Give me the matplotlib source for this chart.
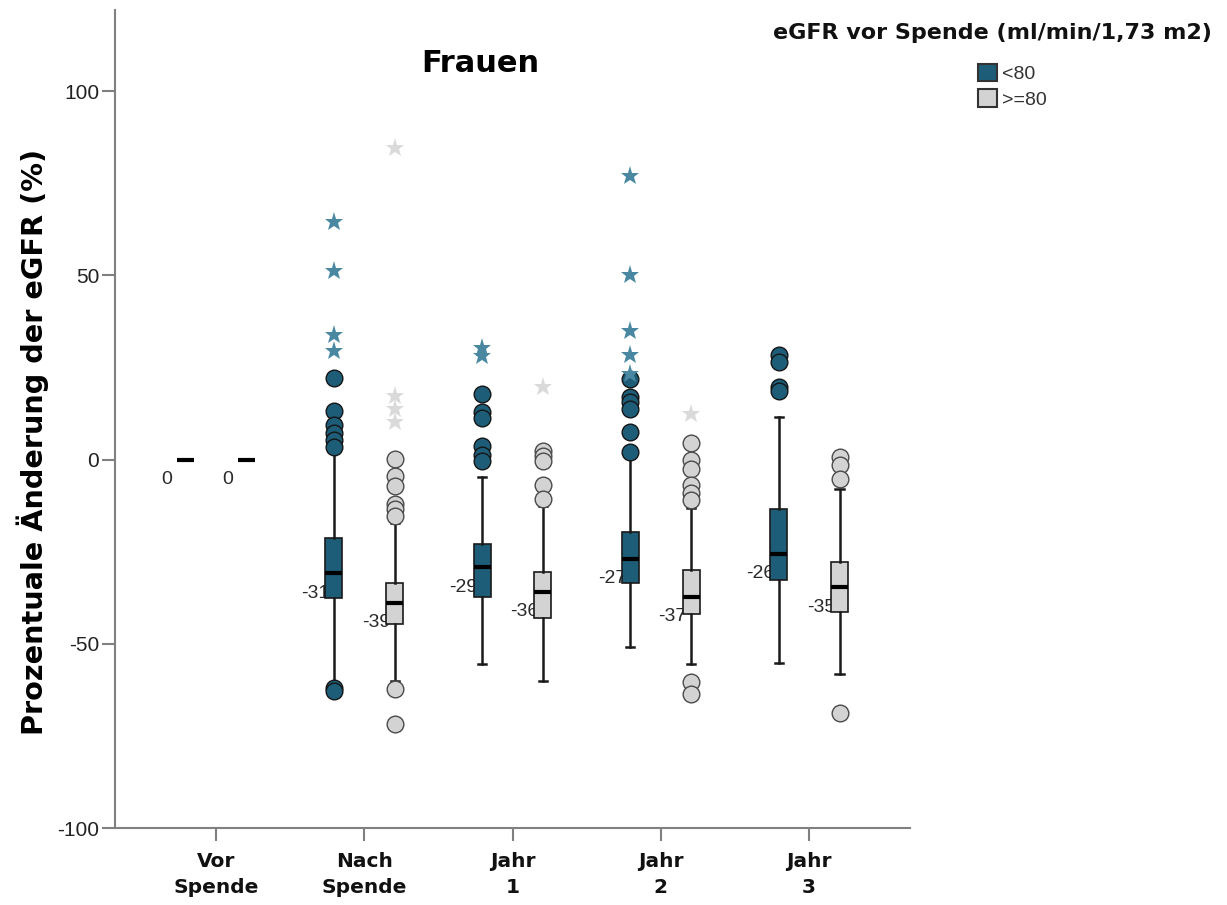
import matplotlib
matplotlib.use('Agg')
import matplotlib.pyplot as plt
import matplotlib as mpl
import numpy as np
from matplotlib.patches import Patch

mpl.rcParams['axes.unicode_minus'] = False  # Bindestrich statt Minuszeichen

# Kategorien (x-Achse)
groups = ['Vor\nSpende', 'Nach\nSpende', 'Jahr\n1', 'Jahr\n2', 'Jahr\n3']

# eGFR < 80: Boxplot-Kennwerte
lt80_med = [0, -30.8, -29.2, -26.9, -25.6]
lt80_q1 = [0, -37.5, -37.2, -33.4, -32.7]
lt80_q3 = [0, -21.4, -23.0, -19.8, -13.4]
lt80_lo = [0, -60.5, -55.4, -50.8, -55.2]
lt80_hi = [0, 2.2, -4.8, 0.3, 11.6]
lt80_out = [[], [22.1, 13.2, 9.4, 7.3, 5.2, 3.4, -61.9, -62.9],
            [17.9, 12.9, 11.4, 3.6, 1.1, -0.3],
            [21.9, 17.1, 15.6, 13.7, 7.5, 2.0],
            [28.3, 26.6, 19.8, 18.6]]
lt80_ext = [[], [64.4, 51.1, 33.7, 29.5], [30.4, 28.0],
            [77.0, 50.1, 35.0, 28.5, 23.3], []]

# eGFR >= 80: Boxplot-Kennwerte
ge80_med = [0, -38.9, -35.9, -37.2, -34.7]
ge80_q1 = [0, -44.6, -43.1, -41.9, -41.5]
ge80_q3 = [0, -33.4, -30.6, -30.1, -27.9]
ge80_lo = [0, -60.0, -60.1, -55.6, -58.1]
ge80_hi = [0, -17.2, -12.7, -13.1, -8.0]
ge80_out = [[], [0.2, -4.4, -7.1, -12.0, -13.5, -15.4, -62.3, -71.9],
            [2.3, 0.9, -0.3, -7.0, -10.7],
            [4.4, -0.1, -2.5, -6.8, -9.2, -11.1, -60.4, -63.5],
            [0.7, -1.4, -5.4, -68.7]]
ge80_ext = [[], [84.5, 17.2, 13.6, 10.2], [19.7], [12.3], []]

teal = '#1d5d78'
teal_star = '#4a88a2'
gray = '#d3d3d3'
gray_star = '#dadada'
spine_c = '#808080'


def make_stats(med, q1, q3, lo, hi):
    return [dict(med=m, q1=a, q3=b, whislo=l, whishi=h, fliers=[])
            for m, a, b, l, h in zip(med, q1, q3, lo, hi)]


fig = plt.figure(figsize=(12.27, 9.05), dpi=100)
ax = fig.add_axes([115 / 1227, 1 - 828 / 905, (910 - 115) / 1227, (828 - 10) / 905])

pos = np.arange(len(groups))
off = 0.205

series = [
    (pos - off, make_stats(lt80_med, lt80_q1, lt80_q3, lt80_lo, lt80_hi), lt80_out, lt80_ext, teal, teal_star, '#151515'),
    (pos + off, make_stats(ge80_med, ge80_q1, ge80_q3, ge80_lo, ge80_hi), ge80_out, ge80_ext, gray, gray_star, '#4a4a4a'),
]

for xs, stats, outs, exts, fc, sc, ec in series:
    ax.bxp(stats, positions=xs, widths=0.115, capwidths=0.055, patch_artist=True,
           showfliers=False, manage_ticks=False,
           boxprops=dict(facecolor=fc, edgecolor='#1a1a1a', linewidth=1.2),
           medianprops=dict(color='black', linewidth=3),
           whiskerprops=dict(color='#1a1a1a', linewidth=1.8),
           capprops=dict(color='#1a1a1a', linewidth=1.8))
    for i in range(len(groups)):
        if outs[i]:
            ax.plot([xs[i]] * len(outs[i]), outs[i], 'o', ms=12, mfc=fc, mec=ec,
                    mew=1.0, zorder=4)
        if exts[i]:
            ax.plot([xs[i]] * len(exts[i]), exts[i], '*', ms=14, color=sc,
                    mew=0, zorder=4)
        m = stats[i]['med']
        ax.annotate('{:.0f}'.format(round(m)), xy=(xs[i], m), xytext=(-18.5, -20),
                    textcoords='offset pixels', ha='center', va='center',
                    fontsize=14, family='Liberation Sans', color='#2a2a2a', zorder=1)

ax.set_xlim(-0.68, 4.68)
ax.set_ylim(-100, 122)
ax.set_yticks([-100, -50, 0, 50, 100])
ax.set_yticklabels(['-100', '-50', '0', '50', '100'], family='Liberation Sans',
                   fontsize=15, color='#222222')
ax.set_xticks(pos)
ax.set_xticklabels(groups, family='DejaVu Sans', fontweight='bold', fontsize=14.5,
                   color='#111111', linespacing=1.45)
ax.tick_params(axis='y', length=9.4, width=1.5, color=spine_c, pad=2)
ax.tick_params(axis='x', length=9.4, width=1.5, color=spine_c, pad=8)
for s in ['top', 'right']:
    ax.spines[s].set_visible(False)
for s in ['left', 'bottom']:
    ax.spines[s].set_color(spine_c)
    ax.spines[s].set_linewidth(1.5)

fig.text(33 / 1227, 1 - 442 / 905, 'Prozentuale Änderung der eGFR (%)', rotation=90,
         ha='center', va='center', fontsize=20.7, fontweight='bold', family='DejaVu Sans')
fig.text(480 / 1227, 1 - 64 / 905, 'Frauen', ha='center', va='center', fontsize=22,
         fontweight='bold', family='DejaVu Sans')
fig.text(992 / 1227, 1 - 33 / 905, 'eGFR vor Spende (ml/min/1,73 m2)', ha='center',
         va='center', fontsize=16, fontweight='bold', family='DejaVu Sans', color='#111111')

handles = [Patch(facecolor=teal, edgecolor='#333333', linewidth=1.5, label='<80'),
           Patch(facecolor=gray, edgecolor='#333333', linewidth=1.5, label='>=80')]
leg = ax.legend(handles=handles, loc='upper left', bbox_to_anchor=(978 / 1227, 1 - 64 / 905),
                bbox_transform=fig.transFigure, frameon=False, borderpad=0, borderaxespad=0,
                handlelength=1.0, handleheight=1.0, handletextpad=0.25, labelspacing=0.3,
                prop={'family': 'Liberation Sans', 'size': 14})
for t in leg.get_texts():
    t.set_color('#333333')

fig.savefig('out.png', dpi=100)
